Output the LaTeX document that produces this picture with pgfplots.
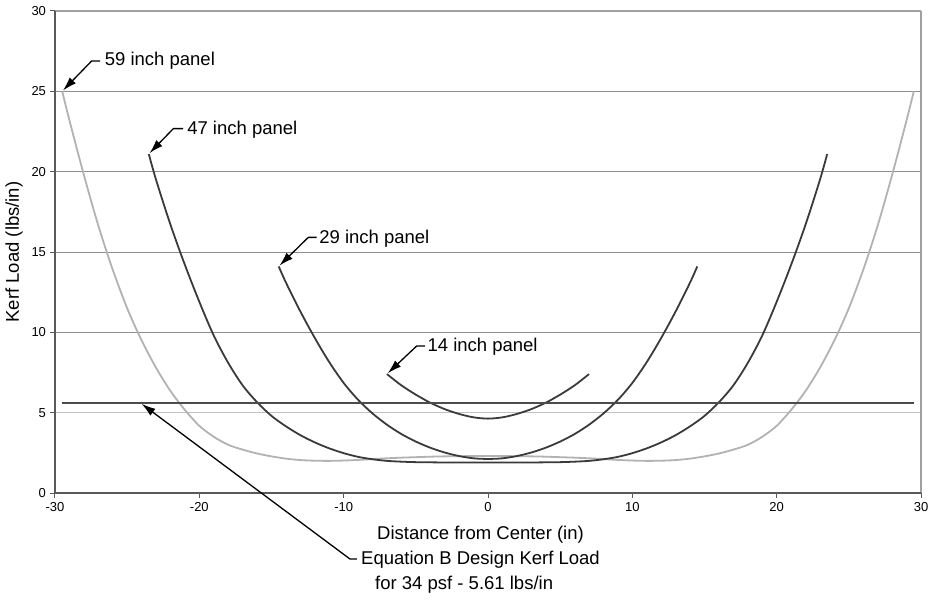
\documentclass[border=0pt]{standalone}
\usepackage{fontspec}
\setmainfont{Liberation Sans}
\usepackage{pgfplots}
\pgfplotsset{compat=1.18}
\usetikzlibrary{arrows.meta}

\definecolor{lightcurve}{HTML}{B2B2B2}
\definecolor{darkcurve}{HTML}{3A3A3A}
\definecolor{designline}{HTML}{4C4C4C}
\definecolor{gridgray}{HTML}{8E8E8E}
\definecolor{gridlight}{HTML}{C2C2C2}
\definecolor{framegray}{HTML}{A0A0A0}
\definecolor{axisdark}{HTML}{5A5A5A}

\newcommand{\bigfont}{\fontsize{18.5bp}{22bp}\selectfont}
\newcommand{\tk}[1]{\mbox{\fontsize{13bp}{15bp}\selectfont #1}}

\begin{document}
\begin{tikzpicture}
\begin{axis}[
  scale only axis,
  width=866bp, height=482bp,
  xmin=-30, xmax=30, ymin=0, ymax=30,
  axis line style={draw=none},
  xtick={-30,-20,-10,0,10,20,30},
  xticklabels={\tk{-30},\tk{-20},\tk{-10},\tk{0},\tk{10},\tk{20},\tk{30}},
  ytick={0,5,10,15,20,25,30},
  yticklabels={\tk{0},\tk{5},\tk{10},\tk{15},\tk{20},\tk{25},\tk{30}},
  xtick pos=left, ytick pos=left,
  tick align=outside,
  major tick length=5bp,
  tick style={draw=axisdark, line width=1bp},
  tick label style={text=black},
  xticklabel style={yshift=-0.5bp},
  yticklabel style={xshift=-0.5bp},
  clip=false,
]
% horizontal grid
\draw[gridlight, line width=1.5bp] (axis cs:-30,5) -- (axis cs:30,5);
\foreach \g in {10,15,20,25}{
  \edef\tmp{\noexpand\draw[gridgray, line width=1bp] (axis cs:-30,\g) -- (axis cs:30,\g);}\tmp
}
% frame
\draw[framegray, line width=1.5bp] (axis cs:-30,30) -- (axis cs:30,30);
\draw[framegray, line width=2bp] (axis cs:30,30) -- (axis cs:30,0);
\draw[axisdark, line width=1.3bp] (axis cs:-30,30) -- (axis cs:-30,0) -- (axis cs:30,0);

% 59 inch panel
\addplot[lightcurve, line width=1.8bp, smooth, tension=0.5] coordinates {
(-29.5,25.0) (-29,23.2) (-28,19.8) (-27,16.65) (-26,13.9) (-25,11.5) (-24,9.5)
(-23,7.8) (-22,6.35) (-21,5.17) (-20,4.18) (-19,3.5) (-18,3.0) (-17,2.70)
(-16,2.46) (-15,2.28) (-14,2.14) (-13,2.05) (-12,2.01) (-11,2.00) (-10,2.02)
(-9,2.06) (-8,2.11) (-7,2.16) (-6,2.20) (-5,2.23) (-4,2.26) (-3,2.28) (-2,2.29)
(-1,2.30) (0,2.30)
(1,2.30) (2,2.29) (3,2.28) (4,2.26) (5,2.23) (6,2.20) (7,2.16) (8,2.11) (9,2.06)
(10,2.02) (11,2.00) (12,2.01) (13,2.05) (14,2.14) (15,2.28) (16,2.46) (17,2.70)
(18,3.0) (19,3.5) (20,4.18) (21,5.17) (22,6.35) (23,7.8) (24,9.5) (25,11.5)
(26,13.9) (27,16.65) (28,19.8) (29,23.2) (29.5,25.0)
};

% 47 inch panel
\addplot[darkcurve, line width=1.8bp, smooth, tension=0.5] coordinates {
(-23.5,21.1) (-23,19.5) (-22,16.7) (-21,14.2) (-20,11.9) (-19,9.8) (-18,8.1)
(-17,6.7) (-16,5.65) (-15,4.8) (-14,4.15) (-13,3.6) (-12,3.15) (-11,2.78)
(-10,2.48) (-9,2.25) (-8,2.1) (-7,2.0) (-6,1.95) (-5,1.92) (-4,1.91) (-3,1.90)
(-2,1.90) (-1,1.90) (0,1.90)
(1,1.90) (2,1.90) (3,1.90) (4,1.91) (5,1.92) (6,1.95) (7,2.0) (8,2.1) (9,2.25)
(10,2.48) (11,2.78) (12,3.15) (13,3.6) (14,4.15) (15,4.8) (16,5.65) (17,6.7)
(18,8.1) (19,9.8) (20,11.9) (21,14.2) (22,16.7) (23,19.5) (23.5,21.1)
};

% 29 inch panel
\addplot[darkcurve, line width=1.8bp, smooth, tension=0.5] coordinates {
(-14.5,14.1) (-14,13.1) (-13,11.3) (-12,9.65) (-11,8.15) (-10,6.85) (-9,5.8)
(-8,4.95) (-7,4.25) (-6,3.67) (-5,3.2) (-4,2.82) (-3,2.52) (-2,2.3) (-1,2.16)
(0,2.12)
(1,2.16) (2,2.3) (3,2.52) (4,2.82) (5,3.2) (6,3.67) (7,4.25) (8,4.95) (9,5.8)
(10,6.85) (11,8.15) (12,9.65) (13,11.3) (14,13.1) (14.5,14.1)
};

% 14 inch panel
\addplot[darkcurve, line width=1.8bp, smooth, tension=0.5] coordinates {
(-7,7.4) (-6,6.7) (-5,6.12) (-4,5.62) (-3,5.22) (-2,4.92) (-1,4.71) (0,4.63)
(1,4.71) (2,4.92) (3,5.22) (4,5.62) (5,6.12) (6,6.7) (7,7.4)
};

% design kerf load
\addplot[designline, line width=1.8bp] coordinates {(-29.5,5.61) (29.5,5.61)};

% callouts
\tikzset{callout/.style={black, line width=1.3bp, -{Latex[length=14bp,width=8.5bp]}}}
\draw[callout] (axis cs:-26.88,26.89) -- (axis cs:-27.46,26.89) -- (axis cs:-29.45,25.05);
\node[anchor=west, inner sep=0pt, font=\bigfont] at (axis cs:-26.56,26.89) {59 inch panel};

\draw[callout] (axis cs:-21.13,22.68) -- (axis cs:-21.80,22.68) -- (axis cs:-23.45,21.15);
\node[anchor=west, inner sep=0pt, font=\bigfont] at (axis cs:-20.85,22.6) {47 inch panel};

\draw[callout] (axis cs:-11.87,15.91) -- (axis cs:-12.45,15.91) -- (axis cs:-14.45,14.15);
\node[anchor=west, inner sep=0pt, font=\bigfont] at (axis cs:-11.70,15.8) {29 inch panel};

\draw[callout] (axis cs:-4.36,9.15) -- (axis cs:-4.94,9.15) -- (axis cs:-6.95,7.45);
\node[anchor=west, inner sep=0pt, font=\bigfont] at (axis cs:-4.20,9.1) {14 inch panel};

\draw[callout] (axis cs:-9.08,-4.11) -- (axis cs:-9.56,-4.11) -- (axis cs:-24.0,5.55);
\node[anchor=west, inner sep=0pt, font=\bigfont] at (axis cs:-8.80,-4.17) {Equation B Design Kerf Load};
\node[anchor=west, inner sep=0pt, font=\bigfont] at (axis cs:-7.83,-5.73) {for 34 psf - 5.61 lbs/in};

% axis titles
\node[font=\bigfont] at (axis cs:-0.52,-2.61) {Distance from Center (in)};
\node[font=\bigfont, rotate=90] at (axis cs:-32.84,15) {Kerf Load (lbs/in)};

\coordinate (bbsw) at (axis cs:-33.81,-6.722);
\coordinate (bbne) at (axis cs:30.97,30.685);
\end{axis}
\pgfresetboundingbox
\path (bbsw) rectangle (bbne);
\end{tikzpicture}
\end{document}
